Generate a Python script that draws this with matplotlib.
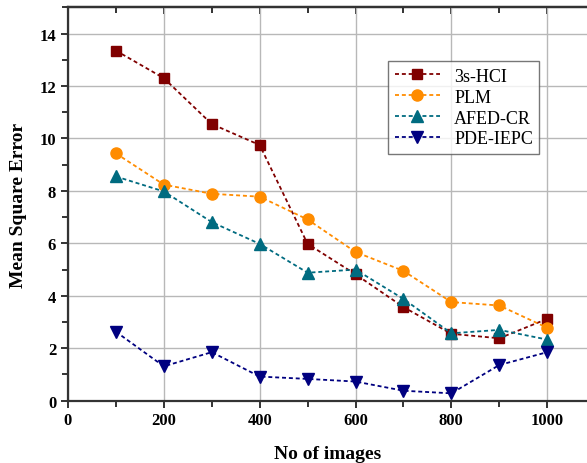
import matplotlib.pyplot as plt
from matplotlib.ticker import MultipleLocator

plt.rcParams['font.family'] = ['Liberation Serif', 'DejaVu Serif']

# data
n_images = [100, 200, 300, 400, 500, 600, 700, 800, 900, 1000]
hci = [13.35, 12.3, 10.55, 9.75, 5.98, 4.82, 3.57, 2.55, 2.38, 3.12]
plm = [9.43, 8.24, 7.89, 7.78, 6.91, 5.67, 4.95, 3.76, 3.63, 2.78]
afed = [8.55, 7.98, 6.81, 5.98, 4.88, 5.0, 3.88, 2.57, 2.7, 2.33]
pde = [2.63, 1.31, 1.85, 0.92, 0.83, 0.73, 0.38, 0.28, 1.36, 1.85]

fig = plt.figure(figsize=(5.87, 4.64), dpi=100)
ax = fig.add_axes([0.1158, 0.1343, 0.8842, 0.8477])

ls = (0, (2.2, 1.6))
ax.plot(n_images, hci, ls=ls, color='#800000', marker='s', ms=7, lw=1.3, label='3s-HCI')
ax.plot(n_images, plm, ls=ls, color='#ff8c00', marker='o', ms=8, lw=1.3, label='PLM')
ax.plot(n_images, afed, ls=ls, color='#006b80', marker='^', ms=8, lw=1.3, label='AFED-CR')
ax.plot(n_images, pde, ls=ls, color='#000080', marker='v', ms=8, lw=1.3, label='PDE-IEPC')

ax.set_xlim(0, 1083)
ax.set_ylim(0, 15)
ax.xaxis.set_major_locator(MultipleLocator(200))
ax.xaxis.set_minor_locator(MultipleLocator(100))
ax.yaxis.set_major_locator(MultipleLocator(2))
ax.yaxis.set_minor_locator(MultipleLocator(1))
ax.grid(True, which='major', color='#b8b8b8', lw=1.0)
ax.set_axisbelow(True)

for s in ['left', 'bottom', 'top']:
    ax.spines[s].set_linewidth(1.6)
    ax.spines[s].set_color('#333333')
ax.spines['right'].set_visible(False)

ax.tick_params(which='both', direction='out', width=1.4, color='#333333')
ax.tick_params(which='major', length=5)
ax.tick_params(which='minor', length=4)
ax.tick_params(labelsize=12)
for lab in ax.get_xticklabels() + ax.get_yticklabels():
    lab.set_fontweight('bold')

top = ax.secondary_xaxis('top')
top.xaxis.set_major_locator(MultipleLocator(200))
top.xaxis.set_minor_locator(MultipleLocator(100))
top.tick_params(which='both', direction='in', width=1.4, color='#333333', labeltop=False)
top.tick_params(which='major', length=5)
top.tick_params(which='minor', length=4)
top.spines['top'].set_linewidth(1.6)

ax.set_xlabel('No of images', fontsize=14, fontweight='bold', labelpad=12)
ax.set_ylabel('Mean Square Error', fontsize=14, fontweight='bold')
ax.yaxis.set_label_coords(-0.079, 0.5)

leg = ax.legend(loc='upper left', bbox_to_anchor=(0.617, 0.863), fontsize=13,
                frameon=True, fancybox=False, edgecolor='#555555', handlelength=2.5,
                borderpad=0.35, labelspacing=0.22, borderaxespad=0)
leg.get_frame().set_linewidth(1.0)

fig.savefig('out.png', dpi=100)
